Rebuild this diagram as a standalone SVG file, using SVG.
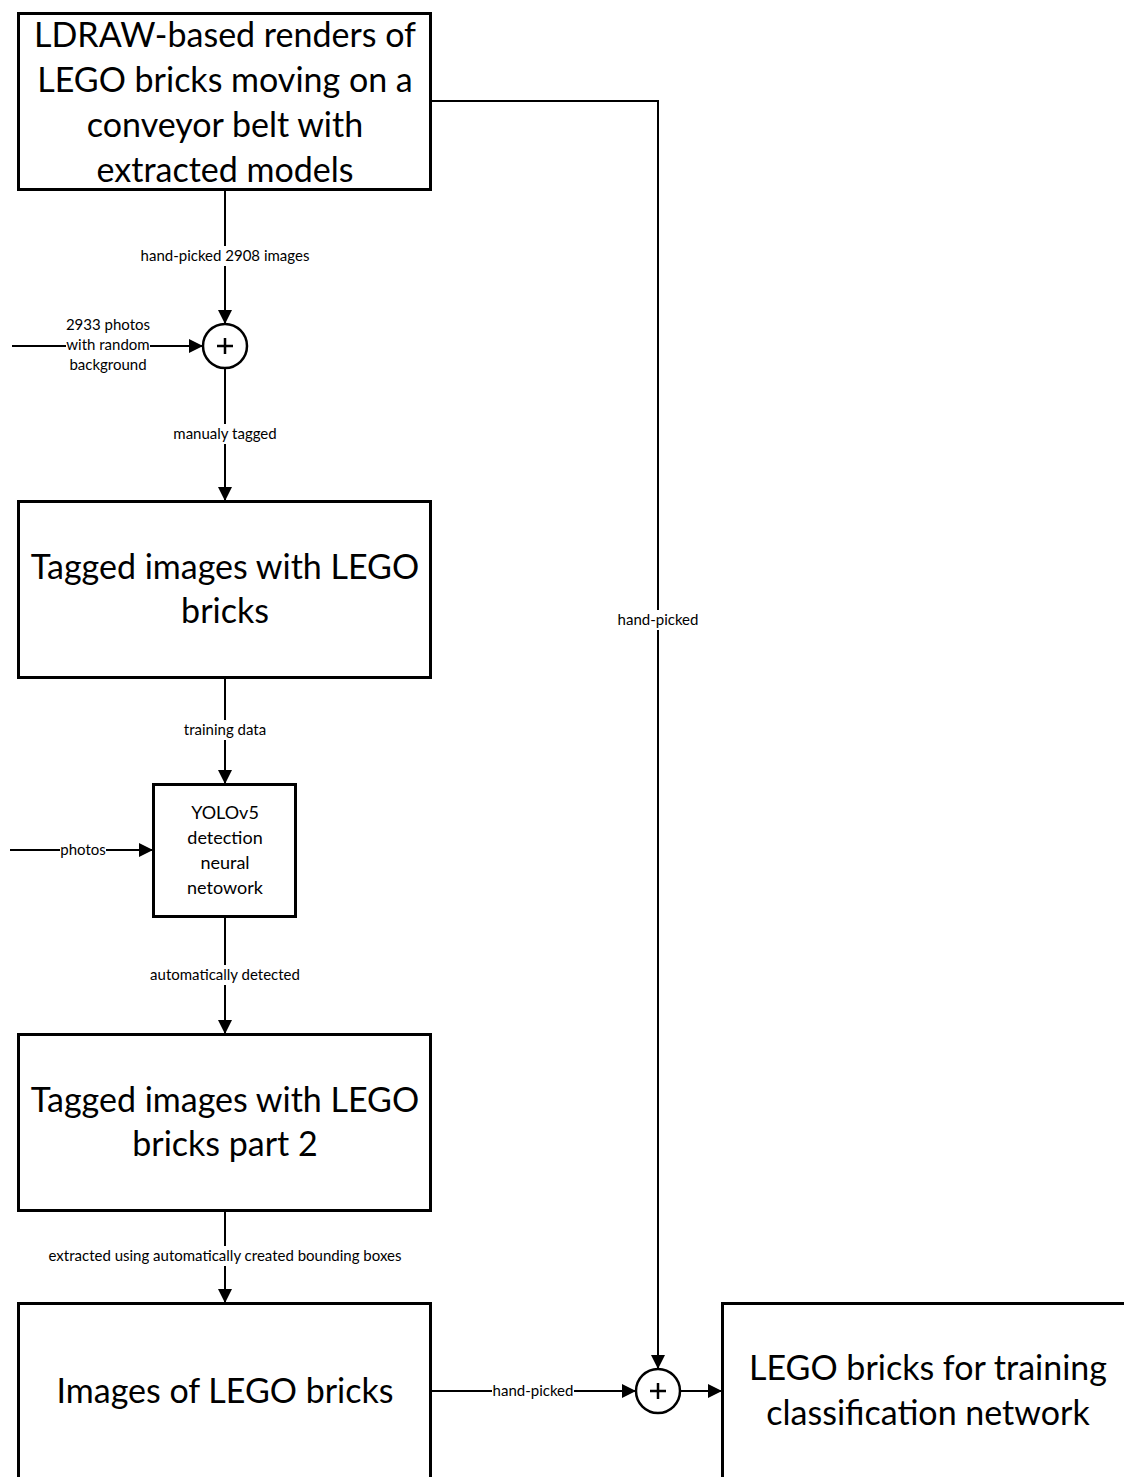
<svg xmlns="http://www.w3.org/2000/svg" width="1124" height="1477" viewBox="0 0 1124 1477">
<defs>
<marker id="ah" viewBox="0 0 14 14" refX="14" refY="7" markerWidth="14" markerHeight="14" markerUnits="userSpaceOnUse" orient="auto">
<path d="M0,0 L14,7 L0,14 Z" fill="#000"/>
</marker>
</defs>
<style>
.box{fill:#fff;stroke:#000;stroke-width:3}
.big{font-family:Lato,"Liberation Sans",sans-serif;font-size:34px;text-anchor:middle;fill:#000}
.mid{font-family:Lato,"Liberation Sans",sans-serif;font-size:18px;text-anchor:middle;fill:#000}
.lbl{font-family:Lato,"Liberation Sans",sans-serif;font-size:15px;text-anchor:middle;fill:#000}
.ln{fill:none;stroke:#000;stroke-width:2}
.bg{fill:#fff}
.sum{fill:#fff;stroke:#000;stroke-width:2.5}
.plus{stroke:#000;stroke-width:2.5}
</style>
<rect width="1124" height="1477" fill="#fff"/>
<g id="connectors">
<path class="ln" d="M225,189 V324" marker-end="url(#ah)"/>
<path class="ln" d="M12,346 H203" marker-end="url(#ah)"/>
<path class="ln" d="M225,368 V501" marker-end="url(#ah)"/>
<path class="ln" d="M225,677 V784" marker-end="url(#ah)"/>
<path class="ln" d="M10,850 H153" marker-end="url(#ah)"/>
<path class="ln" d="M225,916 V1034" marker-end="url(#ah)"/>
<path class="ln" d="M225,1210 V1303" marker-end="url(#ah)"/>
<path class="ln" d="M430,1391 H636" marker-end="url(#ah)"/>
<path class="ln" d="M680,1391 H722" marker-end="url(#ah)"/>
<path class="ln" d="M430,101 H658 V1369" marker-end="url(#ah)"/>
<rect class="bg" x="138" y="246" width="174" height="20"/>
<text class="lbl" x="225" y="261">hand-picked 2908 images</text>
<rect class="bg" x="66" y="316" width="84" height="58"/>
<text class="lbl" x="108" y="330">2933 photos</text>
<text class="lbl" x="108" y="350">with random</text>
<text class="lbl" x="108" y="370">background</text>
<rect class="bg" x="170" y="424" width="110" height="20"/>
<text class="lbl" x="225" y="439">manualy tagged</text>
<rect class="bg" x="180" y="720" width="90" height="20"/>
<text class="lbl" x="225" y="735">training data</text>
<rect class="bg" x="60" y="840" width="46" height="20"/>
<text class="lbl" x="83" y="855">photos</text>
<rect class="bg" x="146" y="965" width="158" height="20"/>
<text class="lbl" x="225" y="980">automatically detected</text>
<rect class="bg" x="40" y="1246" width="370" height="20"/>
<text class="lbl" x="225" y="1261">extracted using automatically created bounding boxes</text>
<rect class="bg" x="616" y="610" width="84" height="20"/>
<text class="lbl" x="658" y="625">hand-picked</text>
<rect class="bg" x="492" y="1381" width="82" height="20"/>
<text class="lbl" x="533" y="1396">hand-picked</text>
</g>
<g id="node-ldraw">
<rect class="box" x="18.5" y="13.5" width="412" height="176"/>
<text class="big" x="225" y="47">LDRAW-based renders of</text>
<text class="big" x="225" y="92">LEGO bricks moving on a</text>
<text class="big" x="225" y="137">conveyor belt with</text>
<text class="big" x="225" y="182">extracted models</text>
</g>
<g id="node-sum1">
<circle class="sum" cx="225" cy="346" r="22"/>
<path class="plus" d="M217,346 H233 M225,338 V354"/>
</g>
<g id="node-tagged">
<rect class="box" x="18.5" y="501.5" width="412" height="176"/>
<text class="big" x="225" y="579">Tagged images with LEGO</text>
<text class="big" x="225" y="623">bricks</text>
</g>
<g id="node-yolo">
<rect class="box" x="153.5" y="784.5" width="142" height="132"/>
<text class="mid" x="225" y="819">YOLOv5</text>
<text class="mid" x="225" y="844">detection</text>
<text class="mid" x="225" y="869">neural</text>
<text class="mid" x="225" y="894">netowork</text>
</g>
<g id="node-tagged2">
<rect class="box" x="18.5" y="1034.5" width="412" height="176"/>
<text class="big" x="225" y="1112">Tagged images with LEGO</text>
<text class="big" x="225" y="1156">bricks part 2</text>
</g>
<g id="node-images">
<rect class="box" x="18.5" y="1303.5" width="412" height="200"/>
<text class="big" x="225" y="1403">Images of LEGO bricks</text>
</g>
<g id="node-sum2">
<circle class="sum" cx="658" cy="1391" r="22"/>
<path class="plus" d="M650,1391 H666 M658,1383 V1399"/>
</g>
<g id="node-final">
<rect class="box" x="722.5" y="1303.5" width="420" height="200"/>
<text class="big" x="928" y="1380">LEGO bricks for training</text>
<text class="big" x="928" y="1425">classification network</text>
</g>
</svg>
